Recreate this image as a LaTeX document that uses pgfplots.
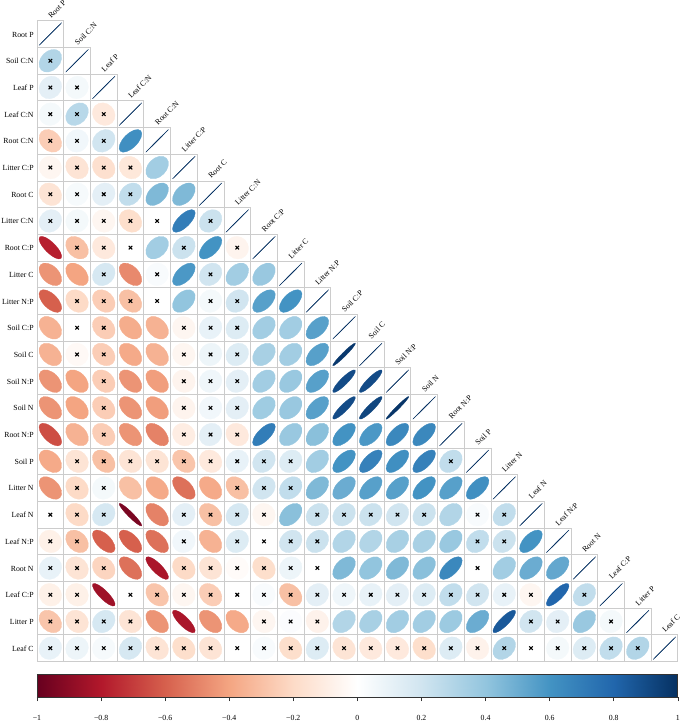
\documentclass[border=0pt]{standalone}
\usepackage{fontspec}
\setmainfont{Liberation Serif}
\usepackage{pgfplots}
\usepackage{pgfplotstable}
\pgfplotsset{compat=1.18}
\pgfplotsset{colormap={rdbu}{rgb255=(103,0,31) rgb255=(178,24,43) rgb255=(214,96,77) rgb255=(244,165,130) rgb255=(253,219,199) rgb255=(255,255,255) rgb255=(209,229,240) rgb255=(146,197,222) rgb255=(67,147,195) rgb255=(33,102,172) rgb255=(5,48,97)}}
\newcommand\lab{\fontsize{7.8}{9}\selectfont}
\pgfdeclareplotmark{correll}{%
  \pgfmathsetmacro{\ea}{0.85*0.5*26.7*sqrt(1+\rr)/sqrt(2)}%
  \pgfmathsetmacro{\eb}{0.85*0.5*26.7*sqrt(max(1-\rr,0.0004))/sqrt(2)}%
  \pgfpathellipse{\pgfpointorigin}{\pgfpoint{\ea pt}{\ea pt}}{\pgfpoint{-\eb pt}{\eb pt}}%
  \pgfusepathqfillstroke}
\pgfplotstableread{
j i r s
0 0 1 1
0 1 0.30 0
1 1 1 1
0 2 0.12 0
1 2 0.05 0
2 2 1 1
0 3 0.05 0
1 3 0.28 0
2 3 -0.12 0
3 3 1 1
0 4 -0.25 0
1 4 0.06 0
2 4 0.20 0
3 4 0.62 1
4 4 1 1
0 5 -0.05 0
1 5 -0.15 0
2 5 -0.17 0
3 5 -0.13 0
4 5 0.35 1
5 5 1 1
0 6 -0.15 0
1 6 0.04 0
2 6 0.12 0
3 6 0.25 0
4 6 0.45 1
5 6 0.45 1
6 6 1 1
0 7 0.12 0
1 7 0.05 0
2 7 -0.05 0
3 7 -0.18 0
4 7 0.00 0
5 7 0.70 1
6 7 0.22 0
7 7 1 1
0 8 -0.78 1
1 8 -0.30 0
2 8 -0.12 0
3 8 0.00 0
4 8 0.35 1
5 8 0.22 0
6 8 0.60 1
7 8 -0.06 0
8 8 1 1
0 9 -0.45 1
1 9 -0.40 1
2 9 0.18 0
3 9 -0.48 1
4 9 0.03 0
5 9 0.58 1
6 9 0.20 0
7 9 0.35 1
8 9 0.38 1
9 9 1 1
0 10 -0.60 1
1 10 -0.20 0
2 10 -0.25 0
3 10 -0.30 0
4 10 0.00 0
5 10 0.40 1
6 10 0.05 0
7 10 0.20 0
8 10 0.55 1
9 10 0.60 1
10 10 1 1
0 11 -0.35 1
1 11 0.00 0
2 11 -0.25 0
3 11 -0.37 1
4 11 -0.35 1
5 11 -0.05 0
6 11 0.10 0
7 11 0.15 0
8 11 0.35 1
9 11 0.35 1
10 11 0.55 1
11 11 1 1
0 12 -0.35 1
1 12 -0.03 0
2 12 -0.25 0
3 12 -0.38 1
4 12 -0.35 1
5 12 -0.05 0
6 12 0.08 0
7 12 0.15 0
8 12 0.33 1
9 12 0.35 1
10 12 0.55 1
11 12 0.97 1
12 12 1 1
0 13 -0.45 1
1 13 -0.40 1
2 13 -0.25 0
3 13 -0.45 1
4 13 -0.42 1
5 13 -0.06 0
6 13 0.07 0
7 13 0.12 0
8 13 0.35 1
9 13 0.38 1
10 13 0.55 1
11 13 0.90 1
12 13 0.90 1
13 13 1 1
0 14 -0.45 1
1 14 -0.40 1
2 14 -0.25 0
3 14 -0.45 1
4 14 -0.42 1
5 14 -0.06 0
6 14 0.06 0
7 14 0.12 0
8 14 0.36 1
9 14 0.38 1
10 14 0.55 1
11 14 0.90 1
12 14 0.92 1
13 14 0.98 1
14 14 1 1
0 15 -0.65 1
1 15 -0.35 1
2 15 -0.25 0
3 15 -0.45 1
4 15 -0.50 1
5 15 -0.10 0
6 15 0.12 0
7 15 -0.12 0
8 15 0.70 1
9 15 0.38 1
10 15 0.42 1
11 15 0.60 1
12 15 0.58 1
13 15 0.65 1
14 15 0.65 1
15 15 1 1
0 16 -0.38 1
1 16 -0.15 0
2 16 -0.30 0
3 16 -0.15 0
4 16 -0.15 0
5 16 -0.28 0
6 16 -0.12 0
7 16 0.10 0
8 16 0.20 0
9 16 0.15 0
10 16 0.35 1
11 16 0.60 1
12 16 0.68 1
13 16 0.62 1
14 16 0.68 1
15 16 0.25 0
16 16 1 1
0 17 -0.45 1
1 17 -0.20 0
2 17 0.05 0
3 17 -0.30 1
4 17 -0.38 1
5 17 -0.55 1
6 17 -0.38 1
7 17 -0.30 0
8 17 0.20 0
9 17 0.25 0
10 17 0.45 1
11 17 0.50 1
12 17 0.55 1
13 17 0.55 1
14 17 0.60 1
15 17 0.55 1
16 17 0.62 1
17 17 1 1
0 18 0.00 0
1 18 -0.20 0
2 18 0.18 0
3 18 -0.95 1
4 18 -0.50 1
5 18 0.12 0
6 18 -0.30 0
7 18 0.18 0
8 18 -0.05 0
9 18 0.42 1
10 18 0.22 0
11 18 0.22 0
12 18 0.22 0
13 18 0.20 0
14 18 0.22 0
15 18 0.30 1
16 18 0.03 0
17 18 0.25 0
18 18 1 1
0 19 -0.08 0
1 19 -0.30 0
2 19 -0.60 1
3 19 -0.60 1
4 19 -0.55 1
5 19 0.06 0
6 19 -0.35 1
7 19 0.15 0
8 19 0.00 0
9 19 0.20 0
10 19 0.22 0
11 19 0.30 1
12 19 0.30 1
13 19 0.33 1
14 19 0.33 1
15 19 0.38 1
16 19 0.25 0
17 19 0.22 0
18 19 0.60 1
19 19 1 1
0 20 0.10 0
1 20 -0.15 0
2 20 -0.22 0
3 20 -0.55 1
4 20 -0.82 1
5 20 -0.20 0
6 20 -0.15 0
7 20 -0.02 0
8 20 -0.18 0
9 20 0.08 0
10 20 0.00 0
11 20 0.45 1
12 20 0.40 1
13 20 0.45 1
14 20 0.42 1
15 20 0.65 1
16 20 0.00 0
17 20 0.35 1
18 20 0.50 1
19 20 0.52 1
20 20 1 1
0 21 -0.08 0
1 21 -0.08 0
2 21 -0.85 1
3 21 0.00 0
4 21 -0.28 0
5 21 -0.05 0
6 21 -0.25 0
7 21 0.00 0
8 21 0.03 0
9 21 -0.30 0
10 21 0.12 0
11 21 0.07 0
12 21 0.10 0
13 21 0.12 0
14 21 0.15 0
15 21 0.25 0
16 21 0.20 0
17 21 0.10 0
18 21 -0.05 0
19 21 0.80 1
20 21 0.25 0
21 21 1 1
0 22 -0.28 0
1 22 -0.15 0
2 22 0.18 0
3 22 -0.15 0
4 22 -0.45 1
5 22 -0.82 1
6 22 -0.45 1
7 22 -0.38 1
8 22 -0.05 0
9 22 0.02 0
10 22 -0.07 0
11 22 0.30 1
12 22 0.33 1
13 22 0.35 1
14 22 0.35 1
15 22 0.37 1
16 22 0.50 1
17 22 0.85 1
18 22 0.20 0
19 22 0.12 0
20 22 0.38 1
21 22 0.05 0
22 22 1 1
0 23 0.10 0
1 23 0.08 0
2 23 0.04 0
3 23 0.18 0
4 23 -0.15 0
5 23 -0.18 0
6 23 -0.15 0
7 23 0.00 0
8 23 0.03 0
9 23 -0.18 0
10 23 0.15 0
11 23 -0.15 0
12 23 -0.12 0
13 23 -0.12 0
14 23 -0.18 0
15 23 0.15 0
16 23 -0.07 0
17 23 0.30 0
18 23 0.00 0
19 23 0.05 0
20 23 0.15 0
21 23 0.25 0
22 23 0.30 0
23 23 1 1
}\corr
\begin{document}
\begin{tikzpicture}
% grid of the lower triangle
\foreach \k in {0,...,24}{
  \pgfmathsetmacro\xe{min(\k+1,24)*26.7}
  \pgfmathsetmacro\ys{max(\k-1,0)*26.7}
  \draw[black!20, line width=0.8pt] (0pt,{-\k*26.7pt}) -- (\xe pt,{-\k*26.7pt});
  \draw[black!20, line width=0.8pt] ({\k*26.7pt},-\ys pt) -- ({\k*26.7pt},-640.8pt);
}
\begin{axis}[at={(0pt,0pt)}, anchor=north west, x=26.7pt, y=26.7pt, y dir=reverse,
  xmin=-0.5, xmax=23.5, ymin=-0.5, ymax=23.5, hide axis, clip=false,
  colormap name=rdbu, point meta min=-1, point meta max=1]
\addplot[scatter, only marks, mark=correll, line width=0.3pt,
  scatter/use mapped color={draw=mapped color, fill=mapped color},
  point meta=explicit,
  visualization depends on={\thisrow{r}\as\rr}] table[x=j, y=i, meta=r] {\corr};
\addplot[only marks, mark=x, mark size=2.5pt, line width=1.1pt, black,
  restrict y to domain=-1:24, unbounded coords=discard]
  table[x=j, y expr={ifthenelse(\thisrow{s}>0.5,1000,\thisrow{i})}] {\corr};
\end{axis}
% labels
\foreach \n [count=\k from 0] in {Root P, Soil C:N, Leaf P, Leaf C:N, Root C:N, Litter C:P, Root C, Litter C:N, Root C:P, Litter C, Litter N:P, Soil C:P, Soil C, Soil N:P, Soil N, Root N:P, Soil P, Litter N, Leaf N, Leaf N:P, Root N, Leaf C:P, Litter P, Leaf C}{
  \node[anchor=base east, inner sep=0pt, font=\lab] at (-3.2pt, {-(\k+0.5)*26.7pt-3pt}) {\n};
  \node[anchor=base west, inner sep=0pt, rotate=45, font=\lab] at ({(\k+0.5)*26.7pt+0.8pt}, {-\k*26.7pt+1.8pt}) {\n};
}
% colour bar
\begin{axis}[at={(0pt,-653.5pt)}, anchor=north west, scale only axis, width=640.8pt, height=23pt,
  xmin=-1, xmax=1, ymin=0, ymax=1, view={0}{90}, enlargelimits=false,
  colormap name=rdbu, point meta min=-1, point meta max=1,
  ytick=\empty, ztick=\empty,
  xtick={-1,-0.8,-0.6,-0.4,-0.2,0,0.2,0.4,0.6,0.8,1},
  xticklabels={−1,−0.8,−0.6,−0.4,−0.2,0,0.2,0.4,0.6,0.8,1},
  xtick pos=left, tick align=outside, major tick length=4pt,
  xticklabel style={font=\lab, yshift=-11pt},
  axis line style={line width=0.8pt, black!80}, tick style={black!80, line width=0.6pt}]
\addplot3[surf, shader=interp, point meta=x, mesh/rows=2, mesh/cols=11] coordinates {
(-1,0,0) (-0.8,0,0) (-0.6,0,0) (-0.4,0,0) (-0.2,0,0) (0,0,0) (0.2,0,0) (0.4,0,0) (0.6,0,0) (0.8,0,0) (1,0,0)
(-1,1,0) (-0.8,1,0) (-0.6,1,0) (-0.4,1,0) (-0.2,1,0) (0,1,0) (0.2,1,0) (0.4,1,0) (0.6,1,0) (0.8,1,0) (1,1,0)};
\end{axis}
\pgfresetboundingbox
\useasboundingbox (-37pt,20.7pt) rectangle (648pt,-701.3pt);
\end{tikzpicture}
\end{document}
